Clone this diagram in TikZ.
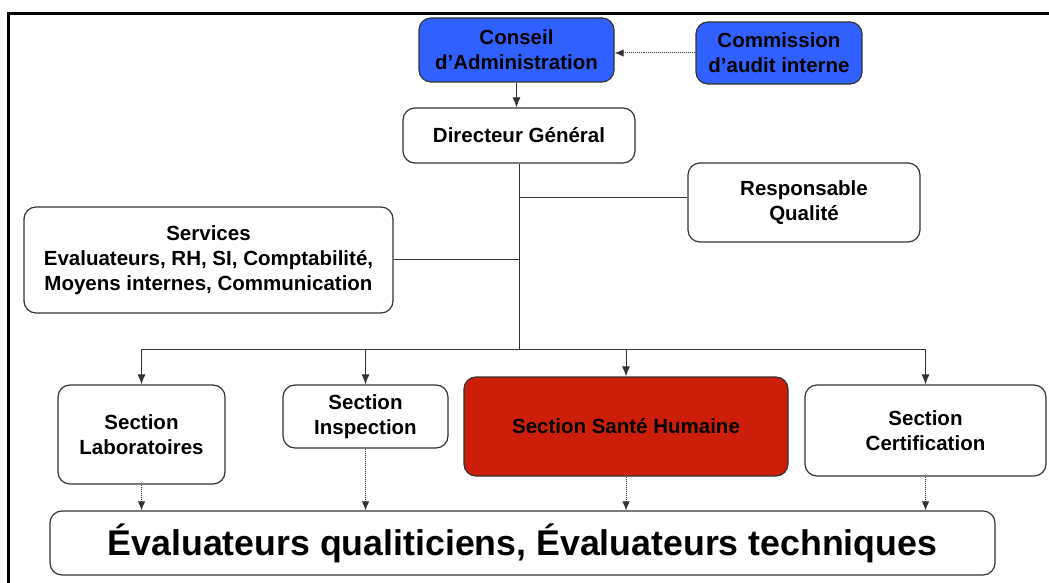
\documentclass[tikz,border=0pt]{standalone}
\usepackage{fontspec}
\setmainfont{Liberation Sans}
\usetikzlibrary{arrows.meta}
\definecolor{cablue}{RGB}{48,96,255}
\definecolor{shred}{RGB}{204,30,10}
\tikzset{
  box/.style={draw=black!80, line width=1.2bp, rounded corners=12bp, align=center,
    inner sep=0pt, font=\fontsize{20.5bp}{25bp}\selectfont\bfseries},
  link/.style={draw=black!80, line width=1bp},
  arr/.style={link, -{Latex[length=10bp,width=8bp]}},
  dotarr/.style={link, densely dotted, -{Latex[length=9bp,width=7.5bp]}},
}
\begin{document}
\begin{tikzpicture}[x=1bp, y=-1bp]
    \useasboundingbox (0,0) rectangle (1049,583);
    \draw[line width=3bp] (8.5,583) -- (8.5,13.5) -- (1049,13.5);

    \node[box, fill=cablue, minimum width=195bp, minimum height=64bp] (ca) at (516.5,50) {Conseil\\d’Administration};
    \node[box, fill=cablue, minimum width=166bp, minimum height=62bp] (cai) at (779,53) {Commission\\d’audit interne};
    \node[box, minimum width=232bp, minimum height=55bp] (dg) at (519,135.5) {Directeur Général};
    \node[box, minimum width=232bp, minimum height=79bp] (rq) at (804,202.5) {Responsable\\Qualité};
    \node[box, minimum width=369bp, minimum height=106bp] (serv) at (208.5,260) {Services\\Evaluateurs, RH, SI, Comptabilité,\\Moyens internes, Communication};
    \node[box, minimum width=167bp, minimum height=99bp] (lab) at (141.5,434.5) {Section\\Laboratoires};
    \node[box, minimum width=165bp, minimum height=63bp] (insp) at (365.5,416.5) {Section\\Inspection};
    \node[box, fill=shred, minimum width=324bp, minimum height=99bp] (sh) at (626,426.5) {Section Santé Humaine};
    \node[box, minimum width=241bp, minimum height=91bp] (cert) at (925.5,430.5) {Section\\Certification};
    \node[box, minimum width=945bp, minimum height=64bp, font=\fontsize{35.7bp}{40bp}\selectfont\bfseries] (eval) at (522.5,543) {Évaluateurs qualiticiens, Évaluateurs techniques};

    \coordinate (bus) at (518,349);
    \coordinate (rqy) at (518,198);

    \draw[dotarr] (cai.west) -- (cai.west -| ca.east);
    \draw[arr] (ca.south) -- (ca.south |- dg.north);
    \draw[link] (dg.south) -- (dg.south |- bus);
    \draw[link] (dg.south |- rqy) -- (rqy -| rq.west);
    \draw[link] (serv.east) -- (serv.east -| dg.south);
    \draw[link] (lab.north |- bus) -- (cert.north |- bus);
    \foreach \s in {lab,insp,sh,cert} {
        \draw[arr] (\s.north |- bus) -- (\s.north);
        \draw[dotarr] (\s.south) -- (\s.south |- eval.north);
    }
\end{tikzpicture}
\end{document}
